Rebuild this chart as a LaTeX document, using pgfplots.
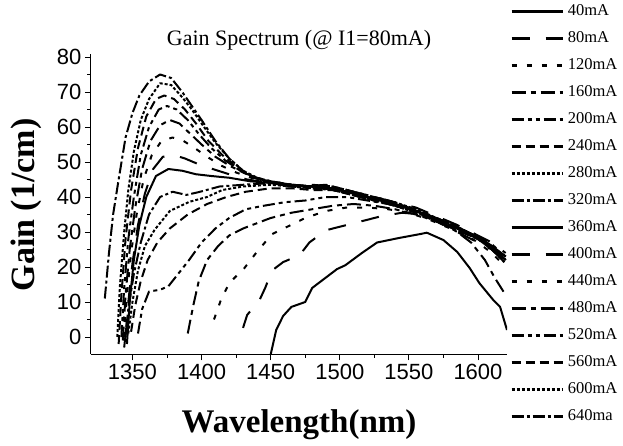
\documentclass[border=0pt]{standalone}
\usepackage{fontspec}
\setmainfont{Liberation Serif}
\setsansfont{Liberation Sans}
\usepackage{pgfplots}
\pgfplotsset{compat=1.18}
\tikzset{
 s40/.style={solid},
 s80/.style={dash pattern=on 18pt off 16pt},
 s120/.style={dash pattern=on 5pt off 10pt},
 s160/.style={dash pattern=on 14pt off 5pt on 5pt off 5pt},
 s200/.style={dash pattern=on 12pt off 4pt on 4pt off 4pt on 4pt off 4pt},
 s240/.style={dash pattern=on 9pt off 5pt},
 s280/.style={dash pattern=on 3pt off 2pt},
 s320/.style={dash pattern=on 12pt off 3pt on 3pt off 3pt},
}
\newcommand{\lf}{\fontsize{16.5}{16.5}\selectfont}
\begin{document}
\begin{tikzpicture}
\path[use as bounding box] (-91pt,-91.5pt) rectangle (532pt,354.5pt);
\begin{axis}[
  at={(0pt,0pt)}, anchor=south west,
  scale only axis, width=416pt, height=301pt,
  xmin=1320, xmax=1621, ymin=-5, ymax=81,
  axis x line*=bottom, axis y line*=left,
  axis line style={line width=1pt},
  xtick={1350,1400,1450,1500,1550,1600},
  ytick={0,10,20,30,40,50,60,70,80},
  minor x tick num=1, minor y tick num=1,
  tick align=outside,
  major tick length=6pt, minor tick length=3.5pt,
  tick style={line width=0.9pt, black},
  scaled ticks=false,
  /pgf/number format/1000 sep={},
  /pgf/number format/assume math mode=true,
  tick label style={font=\fontsize{22}{22}\sffamily},
  title={Gain Spectrum (@ I1=80mA)},
  title style={font=\fontsize{22}{22}\selectfont, at={(axis description cs:0.5,1.008)}, anchor=base, inner sep=0pt},
  xlabel={Wavelength(nm)},
  xlabel style={font=\fontsize{33}{33}\selectfont\bfseries, at={(axis description cs:0.5,-0.2575)}, anchor=base, inner sep=0pt},
  ylabel={Gain (1/cm)},
  ylabel style={font=\fontsize{34}{34}\selectfont\bfseries, at={(axis description cs:-0.156,0.497)}, anchor=center, rotate=0, inner sep=0pt},
  every axis plot/.append style={line width=2pt, black, line join=round},
  legend cell align=left,
  legend image code/.code={\draw[#1,line width=2.6pt] (0pt,0pt) -- (51pt,0pt);},
  legend style={at={(axis description cs:1.0,1.168)}, anchor=north west, draw=none, fill=none,
    font=\lf, row sep=14pt,
    nodes={inner sep=0pt, text height=10pt, text depth=3pt, font=\lf},
    /tikz/every odd column/.append style={column sep=4pt}},
]
% 40mA
\addplot[s40] coordinates {(1450,-5)(1454,2)(1459,6)(1465,8.6)(1475,10)(1480,14)(1490,17)(1498,19.4)(1504,20.5)(1516,24)(1527,27)(1543,28.3)(1558,29.4)(1563,29.8)(1575,27.7)(1585,24.3)(1594,19.7)(1601,15.4)(1611,10.6)(1616,8.6)(1621,2)};
\addlegendentry{\lf 40mA}
% 80mA
\addplot[s80] coordinates {(1430,2.6)(1433,6.3)(1442,10.6)(1446,14)(1451,19)(1459,21.4)(1471,23.4)(1478,27)(1490,30.5)(1500,31.5)(1515,33)(1530,34.5)(1545,35.5)(1560,35)(1570,33)(1580,31)(1590,29)(1600,27)(1610,25)(1620,22)};
\addlegendentry{\lf 80mA}
% 120mA
\addplot[s120] coordinates {(1409,5)(1414,10.6)(1420,15.4)(1431,19.7)(1440,24.3)(1451,29.4)(1462,31.5)(1475,34)(1490,36)(1505,37)(1520,37)(1535,36.5)(1550,35.5)(1565,33.5)(1580,31)(1590,29.5)(1600,27)(1610,24)(1620,20)};
\addlegendentry{\lf 120mA}
% 160mA
\addplot[s160] coordinates {(1390,1)(1394,9)(1398,16)(1404,22)(1412,26)(1420,29)(1430,31)(1440,32.5)(1450,34)(1465,35.5)(1480,36.5)(1495,37.5)(1510,38)(1525,37.5)(1540,36.5)(1555,35)(1570,33)(1585,30.5)(1600,28)(1610,25)(1620,21)};
\addlegendentry{\lf 160mA}
% 200mA
\addplot[s200] coordinates {(1354,1)(1357,8)(1362,13)(1370,13.5)(1376,14.5)(1383,18)(1391,22)(1400,27)(1410,31)(1420,34)(1432,36.5)(1445,37.5)(1460,38.5)(1475,39)(1490,40)(1505,40)(1520,39)(1535,38)(1550,36.5)(1565,34.5)(1580,32)(1595,29.5)(1605,27.5)(1620,22)};
\addlegendentry{\lf 200mA}
% 240mA
\addplot[s240] coordinates {(1349,1.5)(1352,9)(1356,16)(1361,22)(1368,27)(1377,31)(1390,35)(1404,38)(1418,40)(1432,41.5)(1450,42.5)(1465,42.5)(1480,42)(1495,42)(1510,40.5)(1525,39)(1540,37.5)(1555,35.5)(1570,33)(1585,30.5)(1600,28)(1610,25.5)(1620,22)};
\addlegendentry{\lf 240mA}
% 280mA
\addplot[s280] coordinates {(1347,1)(1350,10)(1354,19)(1359,26)(1366,30.6)(1377,36)(1391,38.6)(1404,40)(1415,42)(1430,43)(1450,43.5)(1465,43)(1480,42.5)(1495,42)(1510,40.5)(1525,39)(1540,37.5)(1555,35.5)(1570,33.5)(1585,31)(1600,28)(1610,25.5)(1620,22)};
\addlegendentry{\lf 280mA}
% 320mA
\addplot[s320] coordinates {(1344,-3)(1347,8)(1351,18)(1356,27)(1362,35)(1370,40)(1379,41.5)(1389,40.6)(1398,41.4)(1413,43)(1430,43.5)(1450,44)(1465,43.5)(1480,43)(1495,42.5)(1510,41)(1525,39.5)(1540,38)(1555,36)(1570,34)(1585,31.5)(1600,28.5)(1610,26)(1620,23)};
\addlegendentry{\lf 320mA}
% 360mA
\addplot[s40] coordinates {(1346,-2)(1348,10)(1351,22)(1355,32)(1360,40)(1367,46)(1376,48)(1386,47.5)(1396,46.5)(1407,46)(1420,45.5)(1435,44.5)(1450,44)(1465,43.5)(1480,43)(1495,42.5)(1510,41)(1525,39.5)(1540,38)(1555,36)(1570,34)(1585,31)(1600,28.5)(1610,26)(1620,23)};
\addlegendentry{\lf 360mA}
% 400mA
\addplot[s80] coordinates {(1345,0)(1347,10)(1350,21)(1354,32)(1359,41)(1365,48)(1372,51.5)(1380,52)(1388,51)(1397,49.5)(1408,48)(1420,46.5)(1433,45)(1450,44)(1465,43.5)(1480,43.5)(1495,43)(1510,41.5)(1525,40)(1540,38.5)(1555,37)(1570,34.5)(1585,32)(1600,29)(1610,27)(1620,24)};
\addlegendentry{\lf 400mA}
% 440mA
\addplot[s120] coordinates {(1344,0)(1346,12)(1349,24)(1353,35)(1358,45)(1364,52)(1371,56)(1379,57)(1387,56)(1395,54)(1404,51.5)(1414,49)(1425,47)(1436,45.5)(1450,44.5)(1465,43.5)(1480,43)(1495,42.5)(1510,41)(1525,39.5)(1540,38)(1555,36.5)(1570,34)(1585,31.5)(1600,28.5)(1610,26.5)(1620,23)};
\addlegendentry{\lf 440mA}
% 480mA
\addplot[s160] coordinates {(1343,-1)(1345,12)(1348,25)(1352,37)(1357,48)(1363,56)(1370,60.5)(1377,62)(1384,61)(1392,58)(1400,55)(1410,51.5)(1420,49)(1430,47)(1440,45.5)(1450,44.5)(1465,43.5)(1480,43)(1495,42)(1510,40.5)(1525,39)(1540,37.5)(1555,36)(1570,33.5)(1585,30)(1595,27)(1605,22)(1612,17)(1620,12)};
\addlegendentry{\lf 480mA}
% 520mA
\addplot[s200] coordinates {(1342,0)(1344,14)(1347,28)(1351,40)(1356,52)(1362,60)(1369,65)(1375,66)(1382,65)(1390,62)(1398,58)(1407,54)(1417,50.5)(1428,47.5)(1438,45.5)(1450,44)(1465,43)(1480,42.5)(1495,42.5)(1510,41)(1525,39.5)(1540,38)(1555,36)(1570,33.5)(1585,31)(1600,28)(1610,25.5)(1620,22)};
\addlegendentry{\lf 520mA}
% 560mA
\addplot[s240] coordinates {(1340,-2)(1342,12)(1345,28)(1349,42)(1354,54)(1360,63)(1367,68)(1373,69)(1380,68)(1388,65)(1396,61)(1405,56)(1415,52)(1425,48.5)(1435,46)(1445,44.5)(1460,43.5)(1475,43)(1490,43.5)(1505,42)(1520,40.5)(1535,39)(1550,37)(1565,34.5)(1580,32)(1595,29.5)(1605,27)(1620,23)};
\addlegendentry{\lf 560mA}
% 600mA
\addplot[s280] coordinates {(1339,0)(1341,15)(1344,30)(1347,42)(1351,53)(1356,62)(1362,68)(1370,72.5)(1378,72)(1386,68.5)(1393,65)(1400,61)(1410,55.5)(1420,51)(1430,47.5)(1440,45.5)(1450,44)(1465,43)(1480,43)(1495,43)(1510,41.5)(1525,40)(1540,38.5)(1555,36.5)(1570,34)(1585,31.5)(1600,28.5)(1610,26)(1620,22)};
\addlegendentry{\lf 600mA}
% 640mA
\addplot[s320] coordinates {(1330,11)(1333,24)(1336,35)(1340,45)(1345,57)(1350,64)(1355,69)(1362,73)(1370,75)(1378,74)(1386,70)(1393,66)(1400,62)(1410,56)(1420,51)(1430,47.5)(1440,45.5)(1450,44.5)(1465,43.5)(1480,43)(1495,42.5)(1510,41)(1525,39.5)(1540,38)(1555,36)(1570,33.5)(1585,31)(1600,28)(1610,25)(1620,21)};
\addlegendentry{\lf 640ma}
\end{axis}
\end{tikzpicture}
\end{document}
